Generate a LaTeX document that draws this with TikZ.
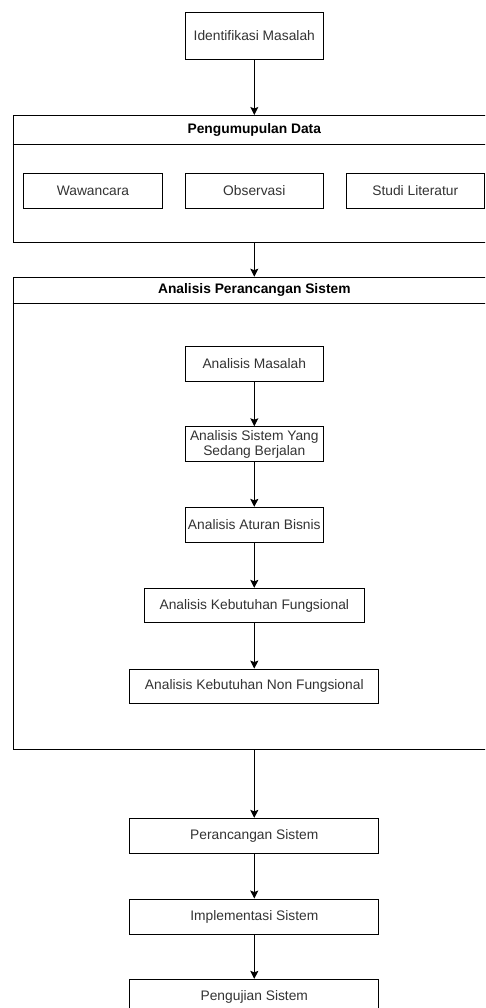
\documentclass[tikz,border=0pt]{standalone}
\usepackage{fontspec}
\setmainfont{Liberation Sans}
\usetikzlibrary{arrows.meta}
\definecolor{txt}{HTML}{333333}
\begin{document}
\begin{tikzpicture}[x=1pt,y=-1pt,
  box/.style={draw=black,line width=0.9pt,fill=white,rectangle,inner sep=0pt,
    minimum height=35pt,text=txt,font=\fontsize{13.8}{15.5}\selectfont,align=center},
  cont/.style={draw=black,line width=0.9pt,rectangle,inner sep=0pt,anchor=north west},
  head/.style={text=black,font=\fontsize{13.8}{15.5}\selectfont\bfseries},
  arr/.style={line width=0.9pt,-{Stealth[length=8pt,width=8pt,inset=1.5pt]}}]
\useasboundingbox (0,0) rectangle (485,1008);
\clip (0,0) rectangle (485,1008);
% top
\node[box,minimum width=138pt,minimum height=47pt] (idm) at (254.3,35.7) {Identifikasi Masalah};
% container 1
\node[cont,minimum width=483.3pt,minimum height=127.3pt] (pd) at (12.7,115) {};
\coordinate (pdl) at (12.7,144);
\coordinate (pdr) at (496,144);
\draw[line width=0.9pt] (pdl) -- (pdr);
\node[head] (pdt) at (254.3,129.5) {Pengumupulan Data};
\node[box,minimum width=139.4pt] (ww) at (93,190.8) {Wawancara};
\node[box,minimum width=138pt] (ob) at (254.3,190.8) {Observasi};
\node[box,minimum width=137.3pt] (sl) at (415.3,190.8) {Studi Literatur};
% container 2
\node[cont,minimum width=483.3pt,minimum height=472.6pt] (aps) at (12.7,276.7) {};
\coordinate (apl) at (12.7,303.3);
\coordinate (apr) at (496,303.3);
\draw[line width=0.9pt] (apl) -- (apr);
\node[head] (apt) at (254.3,290) {Analisis Perancangan Sistem};
\node[box,minimum width=138pt] (am) at (254.3,363.8) {Analisis Masalah};
\node[box,minimum width=138pt,font=\fontsize{13.8}{15}\selectfont] (asb) at (254.3,444.2) {Analisis Sistem Yang\\Sedang Berjalan};
\node[box,minimum width=138pt] (aab) at (254.3,524.8) {Analisis Aturan Bisnis};
\node[box,minimum width=219.7pt,minimum height=34.4pt] (akf) at (254.3,605.5) {Analisis Kebutuhan Fungsional};
\node[box,minimum width=249pt,minimum height=34.3pt] (aknf) at (254.3,686.2) {Analisis Kebutuhan Non Fungsional};
% bottom
\node[box,minimum width=249pt] (ps) at (254.3,835.8) {Perancangan Sistem};
\node[box,minimum width=249pt] (is) at (254.3,916.5) {Implementasi Sistem};
\node[box,minimum width=249pt] (pjs) at (254.3,996.8) {Pengujian Sistem};
% arrows
\draw[arr] (idm.south) -- (idm.south |- pd.north);
\draw[arr] (pd.south -| ps.north) -- (aps.north -| ps.north);
\draw[arr] (am) -- (asb);
\draw[arr] (asb) -- (aab);
\draw[arr] (aab) -- (akf);
\draw[arr] (akf) -- (aknf);
\draw[arr] (aps.south -| ps.north) -- (ps);
\draw[arr] (ps) -- (is);
\draw[arr] (is) -- (pjs);
\end{tikzpicture}
\end{document}
